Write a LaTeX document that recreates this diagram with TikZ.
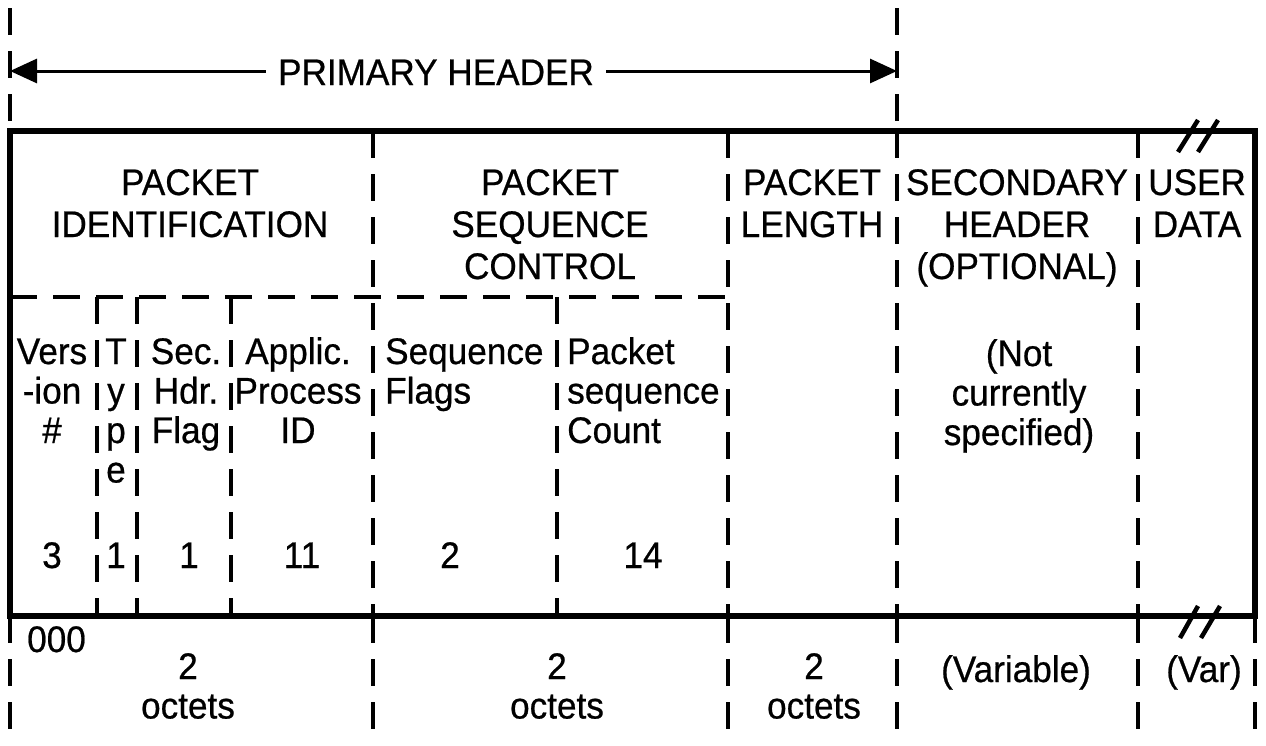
\documentclass[tikz,border=0pt]{standalone}
\usepackage{fontspec}
\setmainfont{Liberation Sans}[FakeStretch=0.95,FakeBold=0.6]
\usetikzlibrary{arrows.meta}
\newcommand\ml[2]{\begin{tabular}[t]{@{}#1@{}}#2\end{tabular}}
\begin{document}
\begin{tikzpicture}[x=1pt,y=-1pt,
  outline/.style={line width=6.5pt, line join=miter},
  dline/.style={line width=3.4pt, dash pattern=on 27pt off 16pt},
  hdr/.style={font=\fontsize{37}{42}\selectfont, inner sep=0pt, anchor=base},
  low/.style={font=\fontsize{37}{39.5}\selectfont, inner sep=0pt, anchor=base},
  lowl/.style={low, anchor=base west},
  brk/.style={line width=4.5pt},
  arr/.style={line width=3pt, -{Triangle[length=27pt,width=24pt]}}]
\useasboundingbox (0,0) rectangle (1266,745);
% dashed extensions above the frame
\draw[dline] (10,8) -- (10,131);
\draw[dline] (897,8) -- (897,131);
% dashed extensions below the frame
\foreach \x in {10,373,728,897,1138,1255} \draw[dline] (\x,616) -- (\x,745);
% full-height field dividers
\foreach \x in {373,728,897,1138} \draw[dline] (\x,131) -- (\x,616);
% sub-field dividers
\foreach \x in {97,137,231,557} \draw[dline] (\x,297) -- (\x,616);
\draw[dline] (10,297) -- (728,297);
% frame
\draw[outline] (10,131) rectangle (1255,616);
% break marks
\draw[brk] (1178,152) -- (1198,120);
\draw[brk] (1198,152) -- (1218,120);
\draw[brk] (1180,638) -- (1198,606);
\draw[brk] (1201,638) -- (1220,606);
% primary header arrow
\node[hdr, fill=white, inner xsep=12pt] (ph) at (436,85) {PRIMARY HEADER};
\coordinate (al) at (10,71);
\coordinate (ar) at (897,71);
\draw[arr] (ph.west |- al) -- (al);
\draw[arr] (ph.east |- ar) -- (ar);
% top headings
\node[hdr] (pid) at (190,195) {\ml{c}{PACKET\\IDENTIFICATION}};
\node[hdr] (psc) at (550,195) {\ml{c}{PACKET\\SEQUENCE\\CONTROL}};
\node[hdr] (plen) at (812,195) {\ml{c}{PACKET\\LENGTH}};
\node[hdr] (sech) at (1017,195) {\ml{c}{SECONDARY\\HEADER\\(OPTIONAL)}};
\node[hdr] (udat) at (1197,195) {\ml{c}{USER\\DATA}};
% sub-fields
\node[low] (ver) at (52,364) {\ml{c}{Vers\\-ion\\\#}};
\node[low] (typ) at (116,364) {\ml{c}{T\\y\\p\\e}};
\node[low] (shf) at (186,364) {\ml{c}{Sec.\\Hdr.\\Flag}};
\node[low] (apid) at (298,364) {\ml{c}{Applic.\\Process\\ID}};
\node[lowl] (sfl) at (385,364) {\ml{l}{Sequence\\Flags}};
\node[lowl] (pscn) at (567,364) {\ml{l}{Packet\\sequence\\Count}};
\node[low] (ncs) at (1019,366) {\ml{c}{(Not\\currently\\specified)}};
% bit counts
\node[low] (b1) at (52,568) {3};
\node[low] (b2) at (116,568) {1};
\node[low] (b3) at (189,568) {1};
\node[low] (b4) at (302,568) {11};
\node[low] (b5) at (450,568) {2};
\node[low] (b6) at (643,568) {14};
% octet counts
\node[lowl] (zz) at (27,652) {000};
\node[low] (o1) at (188,679) {\ml{c}{2\\octets}};
\node[low] (o2) at (557,679) {\ml{c}{2\\octets}};
\node[low] (o3) at (814,679) {\ml{c}{2\\octets}};
\node[low] (v1) at (1016,682) {(Variable)};
\node[low] (v2) at (1204,682) {(Var)};
\end{tikzpicture}
\end{document}
